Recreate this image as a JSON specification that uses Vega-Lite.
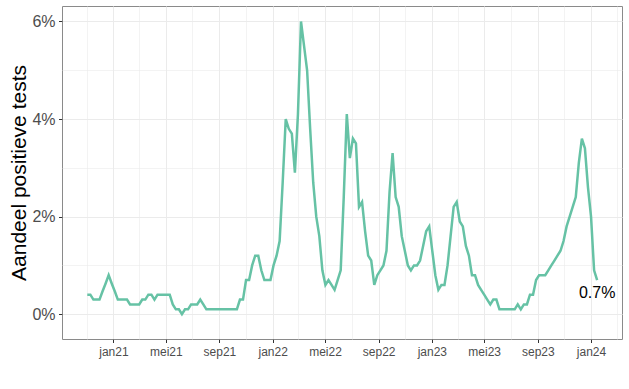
{
  "$schema": "https://vega.github.io/schema/vega-lite/v6.json",
  "width": 560,
  "height": 333,
  "autosize": {"type": "none"},
  "padding": {"left": 62, "top": 6, "right": 7, "bottom": 50},
  "background": "white",
  "config": {
    "view": {"stroke": "#8a8a8a", "strokeWidth": 1},
    "font": "Liberation Sans",
    "axis": {"domain": false, "gridColor": "#EBEBEB", "tickColor": "#333333", "labelColor": "#4D4D4D", "labelFont": "Liberation Sans", "titleFont": "Liberation Sans"}
  },
  "data": {"values": [
    {"date": "2020-11-02", "value": 0.004},
    {"date": "2020-11-09", "value": 0.004},
    {"date": "2020-11-16", "value": 0.003},
    {"date": "2020-11-23", "value": 0.003},
    {"date": "2020-11-30", "value": 0.003},
    {"date": "2020-12-07", "value": 0.0047},
    {"date": "2020-12-14", "value": 0.0063},
    {"date": "2020-12-21", "value": 0.008},
    {"date": "2020-12-28", "value": 0.0063},
    {"date": "2021-01-04", "value": 0.0047},
    {"date": "2021-01-11", "value": 0.003},
    {"date": "2021-01-18", "value": 0.003},
    {"date": "2021-01-25", "value": 0.003},
    {"date": "2021-02-01", "value": 0.003},
    {"date": "2021-02-08", "value": 0.002},
    {"date": "2021-02-15", "value": 0.002},
    {"date": "2021-02-22", "value": 0.002},
    {"date": "2021-03-01", "value": 0.002},
    {"date": "2021-03-08", "value": 0.003},
    {"date": "2021-03-15", "value": 0.003},
    {"date": "2021-03-22", "value": 0.004},
    {"date": "2021-03-29", "value": 0.004},
    {"date": "2021-04-05", "value": 0.003},
    {"date": "2021-04-12", "value": 0.004},
    {"date": "2021-04-19", "value": 0.004},
    {"date": "2021-04-26", "value": 0.004},
    {"date": "2021-05-03", "value": 0.004},
    {"date": "2021-05-10", "value": 0.004},
    {"date": "2021-05-17", "value": 0.002},
    {"date": "2021-05-24", "value": 0.001},
    {"date": "2021-05-31", "value": 0.001},
    {"date": "2021-06-07", "value": 0.0},
    {"date": "2021-06-14", "value": 0.001},
    {"date": "2021-06-21", "value": 0.001},
    {"date": "2021-06-28", "value": 0.002},
    {"date": "2021-07-05", "value": 0.002},
    {"date": "2021-07-12", "value": 0.002},
    {"date": "2021-07-19", "value": 0.003},
    {"date": "2021-07-26", "value": 0.002},
    {"date": "2021-08-02", "value": 0.001},
    {"date": "2021-08-09", "value": 0.001},
    {"date": "2021-08-16", "value": 0.001},
    {"date": "2021-08-23", "value": 0.001},
    {"date": "2021-08-30", "value": 0.001},
    {"date": "2021-09-06", "value": 0.001},
    {"date": "2021-09-13", "value": 0.001},
    {"date": "2021-09-20", "value": 0.001},
    {"date": "2021-09-27", "value": 0.001},
    {"date": "2021-10-04", "value": 0.001},
    {"date": "2021-10-11", "value": 0.001},
    {"date": "2021-10-18", "value": 0.003},
    {"date": "2021-10-25", "value": 0.003},
    {"date": "2021-11-01", "value": 0.007},
    {"date": "2021-11-08", "value": 0.007},
    {"date": "2021-11-15", "value": 0.01},
    {"date": "2021-11-22", "value": 0.012},
    {"date": "2021-11-29", "value": 0.012},
    {"date": "2021-12-06", "value": 0.009},
    {"date": "2021-12-13", "value": 0.007},
    {"date": "2021-12-20", "value": 0.007},
    {"date": "2021-12-27", "value": 0.007},
    {"date": "2022-01-03", "value": 0.01},
    {"date": "2022-01-10", "value": 0.012},
    {"date": "2022-01-17", "value": 0.015},
    {"date": "2022-01-24", "value": 0.027},
    {"date": "2022-01-31", "value": 0.04},
    {"date": "2022-02-07", "value": 0.038},
    {"date": "2022-02-14", "value": 0.037},
    {"date": "2022-02-21", "value": 0.029},
    {"date": "2022-02-28", "value": 0.041},
    {"date": "2022-03-07", "value": 0.06},
    {"date": "2022-03-14", "value": 0.055},
    {"date": "2022-03-21", "value": 0.05},
    {"date": "2022-03-28", "value": 0.038},
    {"date": "2022-04-04", "value": 0.027},
    {"date": "2022-04-11", "value": 0.02},
    {"date": "2022-04-18", "value": 0.016},
    {"date": "2022-04-25", "value": 0.009},
    {"date": "2022-05-02", "value": 0.006},
    {"date": "2022-05-09", "value": 0.007},
    {"date": "2022-05-16", "value": 0.006},
    {"date": "2022-05-23", "value": 0.005},
    {"date": "2022-05-30", "value": 0.007},
    {"date": "2022-06-06", "value": 0.009},
    {"date": "2022-06-13", "value": 0.024},
    {"date": "2022-06-20", "value": 0.041},
    {"date": "2022-06-27", "value": 0.032},
    {"date": "2022-07-04", "value": 0.036},
    {"date": "2022-07-11", "value": 0.035},
    {"date": "2022-07-18", "value": 0.022},
    {"date": "2022-07-25", "value": 0.023},
    {"date": "2022-08-01", "value": 0.017},
    {"date": "2022-08-08", "value": 0.012},
    {"date": "2022-08-15", "value": 0.011},
    {"date": "2022-08-22", "value": 0.006},
    {"date": "2022-08-29", "value": 0.008},
    {"date": "2022-09-05", "value": 0.009},
    {"date": "2022-09-12", "value": 0.01},
    {"date": "2022-09-19", "value": 0.013},
    {"date": "2022-09-26", "value": 0.025},
    {"date": "2022-10-03", "value": 0.033},
    {"date": "2022-10-10", "value": 0.024},
    {"date": "2022-10-17", "value": 0.022},
    {"date": "2022-10-24", "value": 0.016},
    {"date": "2022-10-31", "value": 0.013},
    {"date": "2022-11-07", "value": 0.01},
    {"date": "2022-11-14", "value": 0.009},
    {"date": "2022-11-21", "value": 0.01},
    {"date": "2022-11-28", "value": 0.01},
    {"date": "2022-12-05", "value": 0.011},
    {"date": "2022-12-12", "value": 0.014},
    {"date": "2022-12-19", "value": 0.017},
    {"date": "2022-12-26", "value": 0.018},
    {"date": "2023-01-02", "value": 0.013},
    {"date": "2023-01-09", "value": 0.008},
    {"date": "2023-01-16", "value": 0.005},
    {"date": "2023-01-23", "value": 0.006},
    {"date": "2023-01-30", "value": 0.006},
    {"date": "2023-02-06", "value": 0.01},
    {"date": "2023-02-13", "value": 0.016},
    {"date": "2023-02-20", "value": 0.022},
    {"date": "2023-02-27", "value": 0.023},
    {"date": "2023-03-06", "value": 0.019},
    {"date": "2023-03-13", "value": 0.018},
    {"date": "2023-03-20", "value": 0.014},
    {"date": "2023-03-27", "value": 0.012},
    {"date": "2023-04-03", "value": 0.008},
    {"date": "2023-04-10", "value": 0.008},
    {"date": "2023-04-17", "value": 0.006},
    {"date": "2023-04-24", "value": 0.005},
    {"date": "2023-05-01", "value": 0.004},
    {"date": "2023-05-08", "value": 0.003},
    {"date": "2023-05-15", "value": 0.002},
    {"date": "2023-05-22", "value": 0.003},
    {"date": "2023-05-29", "value": 0.003},
    {"date": "2023-06-05", "value": 0.001},
    {"date": "2023-06-12", "value": 0.001},
    {"date": "2023-06-19", "value": 0.001},
    {"date": "2023-06-26", "value": 0.001},
    {"date": "2023-07-03", "value": 0.001},
    {"date": "2023-07-10", "value": 0.001},
    {"date": "2023-07-17", "value": 0.002},
    {"date": "2023-07-24", "value": 0.001},
    {"date": "2023-07-31", "value": 0.002},
    {"date": "2023-08-07", "value": 0.002},
    {"date": "2023-08-14", "value": 0.004},
    {"date": "2023-08-21", "value": 0.004},
    {"date": "2023-08-28", "value": 0.007},
    {"date": "2023-09-04", "value": 0.008},
    {"date": "2023-09-11", "value": 0.008},
    {"date": "2023-09-18", "value": 0.008},
    {"date": "2023-09-25", "value": 0.009},
    {"date": "2023-10-02", "value": 0.01},
    {"date": "2023-10-09", "value": 0.011},
    {"date": "2023-10-16", "value": 0.012},
    {"date": "2023-10-23", "value": 0.013},
    {"date": "2023-10-30", "value": 0.015},
    {"date": "2023-11-06", "value": 0.018},
    {"date": "2023-11-13", "value": 0.02},
    {"date": "2023-11-20", "value": 0.022},
    {"date": "2023-11-27", "value": 0.024},
    {"date": "2023-12-04", "value": 0.031},
    {"date": "2023-12-11", "value": 0.036},
    {"date": "2023-12-18", "value": 0.034},
    {"date": "2023-12-25", "value": 0.026},
    {"date": "2024-01-01", "value": 0.02},
    {"date": "2024-01-08", "value": 0.009},
    {"date": "2024-01-15", "value": 0.007}
  ]},
  "layer": [
    {
      "mark": {"type": "line", "color": "#66C2A5", "strokeWidth": 2.5},
      "encoding": {
        "x": {
          "field": "date", "type": "temporal",
          "scale": {"type": "utc", "domain": [{"year": 2020, "month": 9, "date": 5, "utc": true}, {"year": 2024, "month": 3, "date": 12, "utc": true}]},
          "axis": {
            "title": null,
            "values": [
              {"year": 2021, "month": 1, "date": 1, "utc": true},
              {"year": 2021, "month": 5, "date": 1, "utc": true},
              {"year": 2021, "month": 9, "date": 1, "utc": true},
              {"year": 2022, "month": 1, "date": 1, "utc": true},
              {"year": 2022, "month": 5, "date": 1, "utc": true},
              {"year": 2022, "month": 9, "date": 1, "utc": true},
              {"year": 2023, "month": 1, "date": 1, "utc": true},
              {"year": 2023, "month": 5, "date": 1, "utc": true},
              {"year": 2023, "month": 9, "date": 1, "utc": true},
              {"year": 2024, "month": 1, "date": 1, "utc": true}
            ],
            "labelExpr": "['jan','feb','mrt','apr','mei','jun','jul','aug','sep','okt','nov','dec'][utcmonth(datum.value)] + utcFormat(datum.value, '%y')",
            "grid": true, "gridWidth": 1,
            "tickSize": 3.5, "tickWidth": 1,
            "labelFontSize": 12, "labelPadding": 4
          }
        },
        "y": {
          "field": "value", "type": "quantitative",
          "scale": {"domain": [-0.00508, 0.06317], "nice": false, "zero": false},
          "axis": {
            "values": [0, 0.02, 0.04, 0.06],
            "format": ".0%",
            "grid": true, "gridWidth": 1,
            "tickSize": 3.5, "tickWidth": 1,
            "labelFontSize": 16, "labelPadding": 3.5,
            "title": "Aandeel positieve tests",
            "titleFontSize": 21, "titleFontWeight": "normal", "titleColor": "black",
            "titleAngle": 270, "titleX": -37, "titleY": 166.5,
            "titleBaseline": "alphabetic", "titleAlign": "center"
          }
        }
      }
    },
    {
      "transform": [{"filter": "utcyear(datum.date) == 2024 && datum.value == 0.007"}],
      "mark": {"type": "text", "fontSize": 16, "dy": 18, "color": "black", "baseline": "alphabetic", "align": "center"},
      "encoding": {
        "x": {
          "field": "date", "type": "temporal",
          "axis": {
            "orient": "top", "title": null, "labels": false, "ticks": false, "domain": false,
            "grid": true, "gridWidth": 0.6,
            "values": [
              {"year": 2020, "month": 11, "date": 1, "utc": true},
              {"year": 2021, "month": 3, "date": 1, "utc": true},
              {"year": 2021, "month": 7, "date": 1, "utc": true},
              {"year": 2021, "month": 11, "date": 1, "utc": true},
              {"year": 2022, "month": 3, "date": 1, "utc": true},
              {"year": 2022, "month": 7, "date": 1, "utc": true},
              {"year": 2022, "month": 11, "date": 1, "utc": true},
              {"year": 2023, "month": 3, "date": 1, "utc": true},
              {"year": 2023, "month": 7, "date": 1, "utc": true},
              {"year": 2023, "month": 11, "date": 1, "utc": true},
              {"year": 2024, "month": 3, "date": 1, "utc": true}
            ]
          }
        },
        "y": {
          "field": "value", "type": "quantitative",
          "axis": {
            "orient": "right", "title": null, "labels": false, "ticks": false, "domain": false,
            "grid": true, "gridWidth": 0.6,
            "values": [0.01, 0.03, 0.05]
          }
        },
        "text": {"field": "value", "type": "quantitative", "format": ".1%"}
      }
    }
  ],
  "resolve": {"axis": {"x": "independent", "y": "independent"}}
}
